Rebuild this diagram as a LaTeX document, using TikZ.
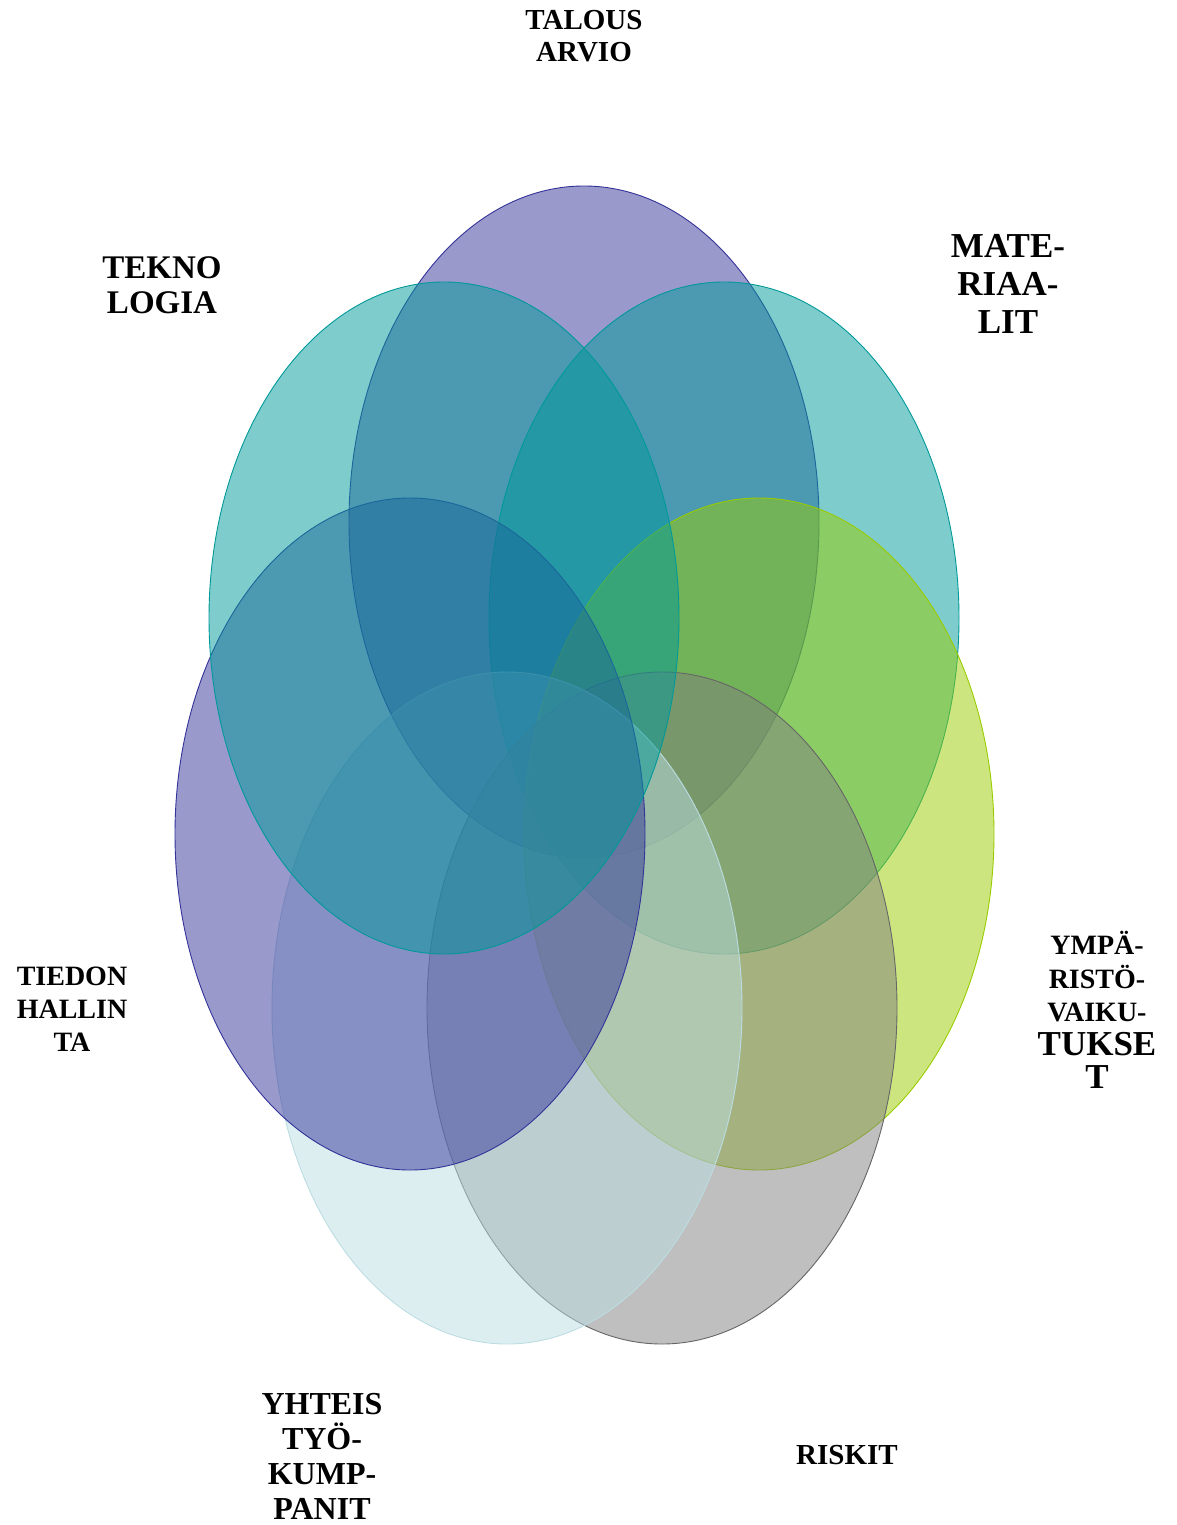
\documentclass[tikz,border=0pt]{standalone}
\usepackage{fontspec}
\setmainfont{Liberation Serif}
\begin{document}
\begin{tikzpicture}[x=1pt,y=-1pt,
  petal/.style={fill opacity=0.5,draw opacity=1,line width=0.9pt},
  lbl/.style={align=center,font=\bfseries}]
\useasboundingbox (0,0) rectangle (1176,1525);
\definecolor{cpurple}{RGB}{51,51,153}
\definecolor{cteal}{RGB}{0,153,153}
\definecolor{cgreen}{RGB}{153,204,0}
\definecolor{cgray}{RGB}{128,128,128}
\definecolor{clight}{RGB}{187,221,226}
\path[petal,fill=cpurple,draw=cpurple] (584,522) ellipse [x radius=235,y radius=336];
\path[petal,fill=cteal,draw=cteal] (724,618) ellipse [x radius=235,y radius=336];
\path[petal,fill=cgreen,draw=cgreen] (759,834) ellipse [x radius=235,y radius=336];
\path[petal,fill=cgray,draw=cgray!80!black] (662,1008) ellipse [x radius=235,y radius=336];
\path[petal,fill=clight,draw=clight] (507,1008) ellipse [x radius=235,y radius=336];
\path[petal,fill=cpurple,draw=cpurple] (410,834) ellipse [x radius=235,y radius=336];
\path[petal,fill=cteal,draw=cteal] (444,618) ellipse [x radius=235,y radius=336];
\node[lbl,font=\bfseries\fontsize{29}{32}\selectfont] (talous) at (584,36) {TALOUS\\ARVIO};
\node[lbl,font=\bfseries\fontsize{33}{35}\selectfont] (tekno) at (162,285) {TEKNO\\LOGIA};
\node[lbl,font=\bfseries\fontsize{35}{38}\selectfont] (mate) at (1008,284) {MATE-\\RIAA-\\LIT};
\node[lbl,font=\bfseries\fontsize{28}{33.5}\selectfont] (ympa) at (1097,1010) {YMPÄ-\\RISTÖ-\\VAIKU-\\{\fontsize{35}{37}\selectfont TUKSE}\\{\fontsize{35}{37}\selectfont T}};
\node[lbl,font=\bfseries\fontsize{28}{33}\selectfont] (tiedon) at (72,1009) {TIEDON\\HALLIN\\TA};
\node[lbl,font=\bfseries\fontsize{32}{35}\selectfont] (yhteis) at (322,1456) {YHTEIS\\TYÖ-\\KUMP-\\PANIT};
\node[lbl,font=\bfseries\fontsize{29}{32}\selectfont] (riskit) at (847,1455) {RISKIT};
\end{tikzpicture}
\end{document}
